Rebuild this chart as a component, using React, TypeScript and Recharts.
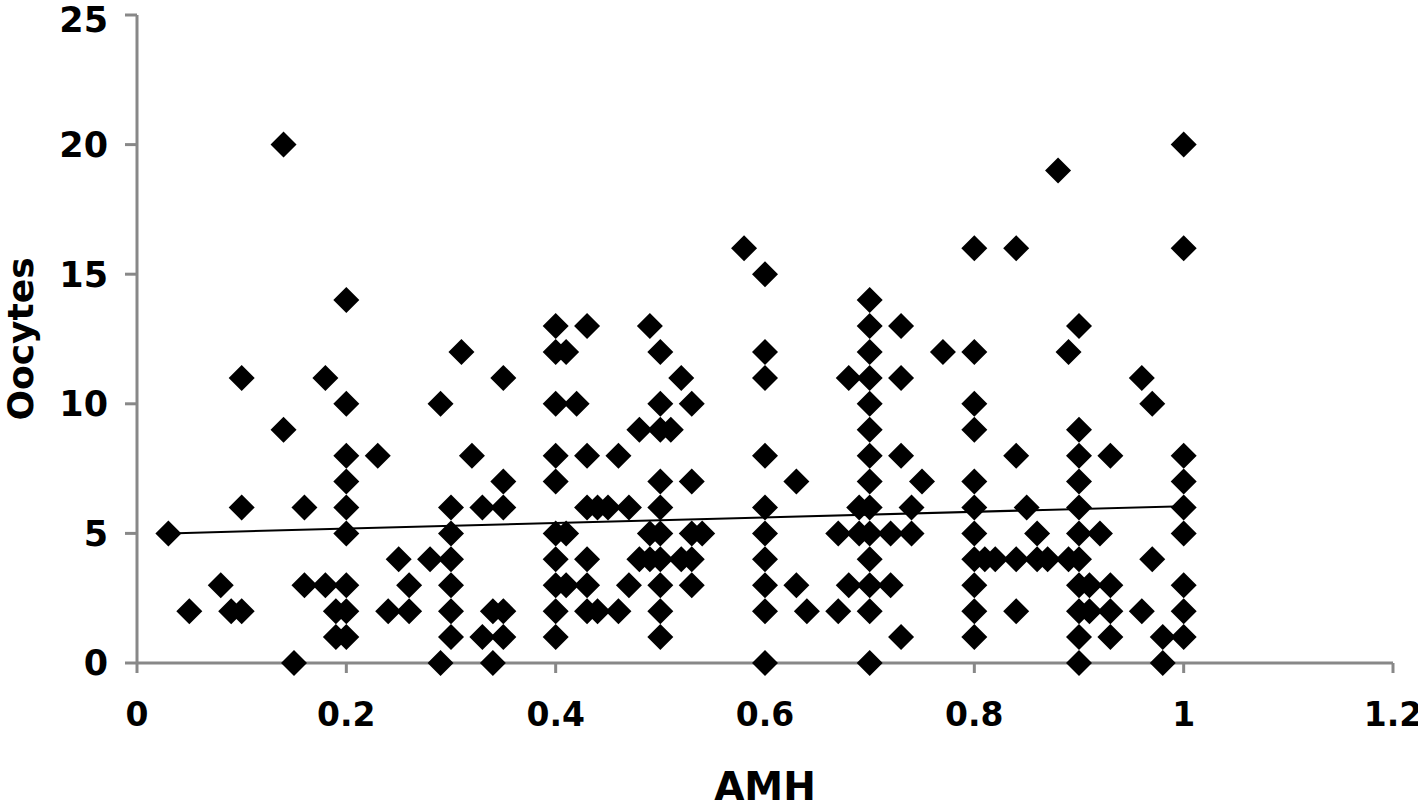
import { ScatterChart, Scatter, XAxis, YAxis, ReferenceLine, Label } from "recharts";

// AMH value (x) and oocyte count (y) for each patient
const amh = [
  0.03, 0.05, 0.08, 0.09,
  0.1, 0.1, 0.1,
  0.14, 0.14, 0.15, 0.16, 0.16, 0.18, 0.18, 0.19, 0.19,
  0.2, 0.2, 0.2, 0.2, 0.2, 0.2, 0.2, 0.2, 0.2,
  0.23, 0.24, 0.25, 0.26, 0.26, 0.28, 0.29, 0.29,
  0.3, 0.3, 0.3, 0.3, 0.3, 0.3,
  0.31, 0.32, 0.33, 0.33, 0.34, 0.34, 0.35, 0.35, 0.35, 0.35, 0.35,
  0.4, 0.4, 0.4, 0.4, 0.4, 0.4, 0.4, 0.4, 0.4, 0.4,
  0.41, 0.41, 0.41, 0.42,
  0.43, 0.43, 0.43, 0.43, 0.43, 0.43,
  0.44, 0.44, 0.45, 0.46, 0.46, 0.47, 0.47, 0.48, 0.48, 0.49, 0.49, 0.49,
  0.5, 0.5, 0.5, 0.5, 0.5, 0.5, 0.5, 0.5, 0.5, 0.5,
  0.51, 0.52, 0.52, 0.53, 0.53, 0.53, 0.53, 0.53, 0.54, 0.58,
  0.6, 0.6, 0.6, 0.6, 0.6, 0.6, 0.6, 0.6, 0.6, 0.6,
  0.63, 0.63, 0.64, 0.67, 0.67, 0.68, 0.68, 0.69, 0.69,
  0.7, 0.7, 0.7, 0.7, 0.7, 0.7, 0.7, 0.7, 0.7, 0.7, 0.7, 0.7, 0.7, 0.7,
  0.72, 0.72, 0.73, 0.73, 0.73, 0.73, 0.74, 0.74, 0.75, 0.77,
  0.8, 0.8, 0.8, 0.8, 0.8, 0.8, 0.8, 0.8, 0.8, 0.8, 0.8,
  0.81, 0.82, 0.84, 0.84, 0.84, 0.84, 0.85, 0.86, 0.86, 0.87, 0.88, 0.89, 0.89,
  0.9, 0.9, 0.9, 0.9, 0.9, 0.9, 0.9, 0.9, 0.9, 0.9, 0.9,
  0.91, 0.91, 0.92, 0.93, 0.93, 0.93, 0.93, 0.96, 0.96, 0.97, 0.97, 0.98, 0.98,
  1, 1, 1, 1, 1, 1, 1, 1, 1,
];

const oocytes = [
  5, 2, 3, 2,
  11, 6, 2,
  20, 9, 0, 6, 3, 11, 3, 2, 1,
  14, 10, 8, 7, 6, 5, 3, 2, 1,
  8, 2, 4, 3, 2, 4, 10, 0,
  6, 5, 4, 3, 2, 1,
  12, 8, 6, 1, 2, 0, 11, 7, 6, 2, 1,
  13, 12, 10, 8, 7, 5, 4, 3, 2, 1,
  12, 5, 3, 10,
  13, 8, 6, 4, 3, 2,
  6, 2, 6, 8, 2, 6, 3, 9, 4, 13, 5, 4,
  12, 10, 9, 7, 6, 5, 4, 3, 2, 1,
  9, 11, 4, 10, 7, 5, 4, 3, 5, 16,
  15, 12, 11, 8, 6, 5, 4, 3, 2, 0,
  7, 3, 2, 5, 2, 11, 3, 6, 5,
  14, 13, 12, 11, 10, 9, 8, 7, 6, 5, 4, 3, 2, 0,
  5, 3, 13, 11, 8, 1, 6, 5, 7, 12,
  16, 12, 10, 9, 7, 6, 5, 4, 3, 2, 1,
  4, 4, 16, 8, 4, 2, 6, 5, 4, 4, 19, 12, 4,
  13, 9, 8, 7, 6, 5, 4, 3, 2, 1, 0,
  3, 2, 5, 8, 3, 2, 1, 11, 2, 10, 4, 1, 0,
  20, 16, 8, 7, 6, 5, 3, 2, 1,
];

const xTicks = [0, 0.2, 0.4, 0.6, 0.8, 1, 1.2];
const yTicks = [0, 5, 10, 15, 20, 25];

// linear trend line ends, as drawn in the figure
const trendStart = { x: 0.03, y: 5.0 };
const trendEnd = { x: 1.0, y: 6.05 };

const data = amh.map((x, i) => ({ x, y: oocytes[i] }));

const axisColor = "#888888";
const font = "'DejaVu Sans', sans-serif";

const Diamond = (props: any) => {
  const { cx, cy } = props;
  const r = 13;
  return (
    <polygon
      points={`${cx},${cy - r} ${cx + r},${cy} ${cx},${cy + r} ${cx - r},${cy}`}
      fill="#000"
    />
  );
};

export default function App() {
  return (
    <div style={{ position: "absolute", left: 0, top: 0, background: "#fff" }}>
      <ScatterChart width={1418} height={800} margin={{ top: 15, right: 25, bottom: 0, left: 0 }}>
        <XAxis
          type="number"
          dataKey="x"
          domain={[0, 1.2]}
          ticks={xTicks}
          height={137}
          stroke={axisColor}
          strokeWidth={3}
          tickSize={10}
          tickMargin={30}
          tick={{ fill: "#000", fontSize: 33, fontWeight: "bold", fontFamily: font }}
        >
          <Label
            value="AMH"
            position="insideBottom"
            offset={0}
            style={{ fill: "#000", fontSize: 39, fontWeight: "bold", fontFamily: font }}
          />
        </XAxis>
        <YAxis
          type="number"
          dataKey="y"
          domain={[0, 25]}
          ticks={yTicks}
          width={137}
          stroke={axisColor}
          strokeWidth={3}
          tickSize={12}
          tickMargin={17}
          tick={{ fill: "#000", fontSize: 35, fontWeight: "bold", fontFamily: font }}
        >
          <Label
            value="Oocytes"
            angle={-90}
            position="insideLeft"
            offset={20}
            style={{ fill: "#000", fontSize: 36, fontWeight: "bold", fontFamily: font, textAnchor: "middle" }}
          />
        </YAxis>
        <Scatter data={data} fill="#000" shape={Diamond} isAnimationActive={false} />
        <ReferenceLine
          segment={[trendStart, trendEnd]}
          stroke="#000"
          strokeWidth={2}
          ifOverflow="visible"
        />
      </ScatterChart>
    </div>
  );
}
